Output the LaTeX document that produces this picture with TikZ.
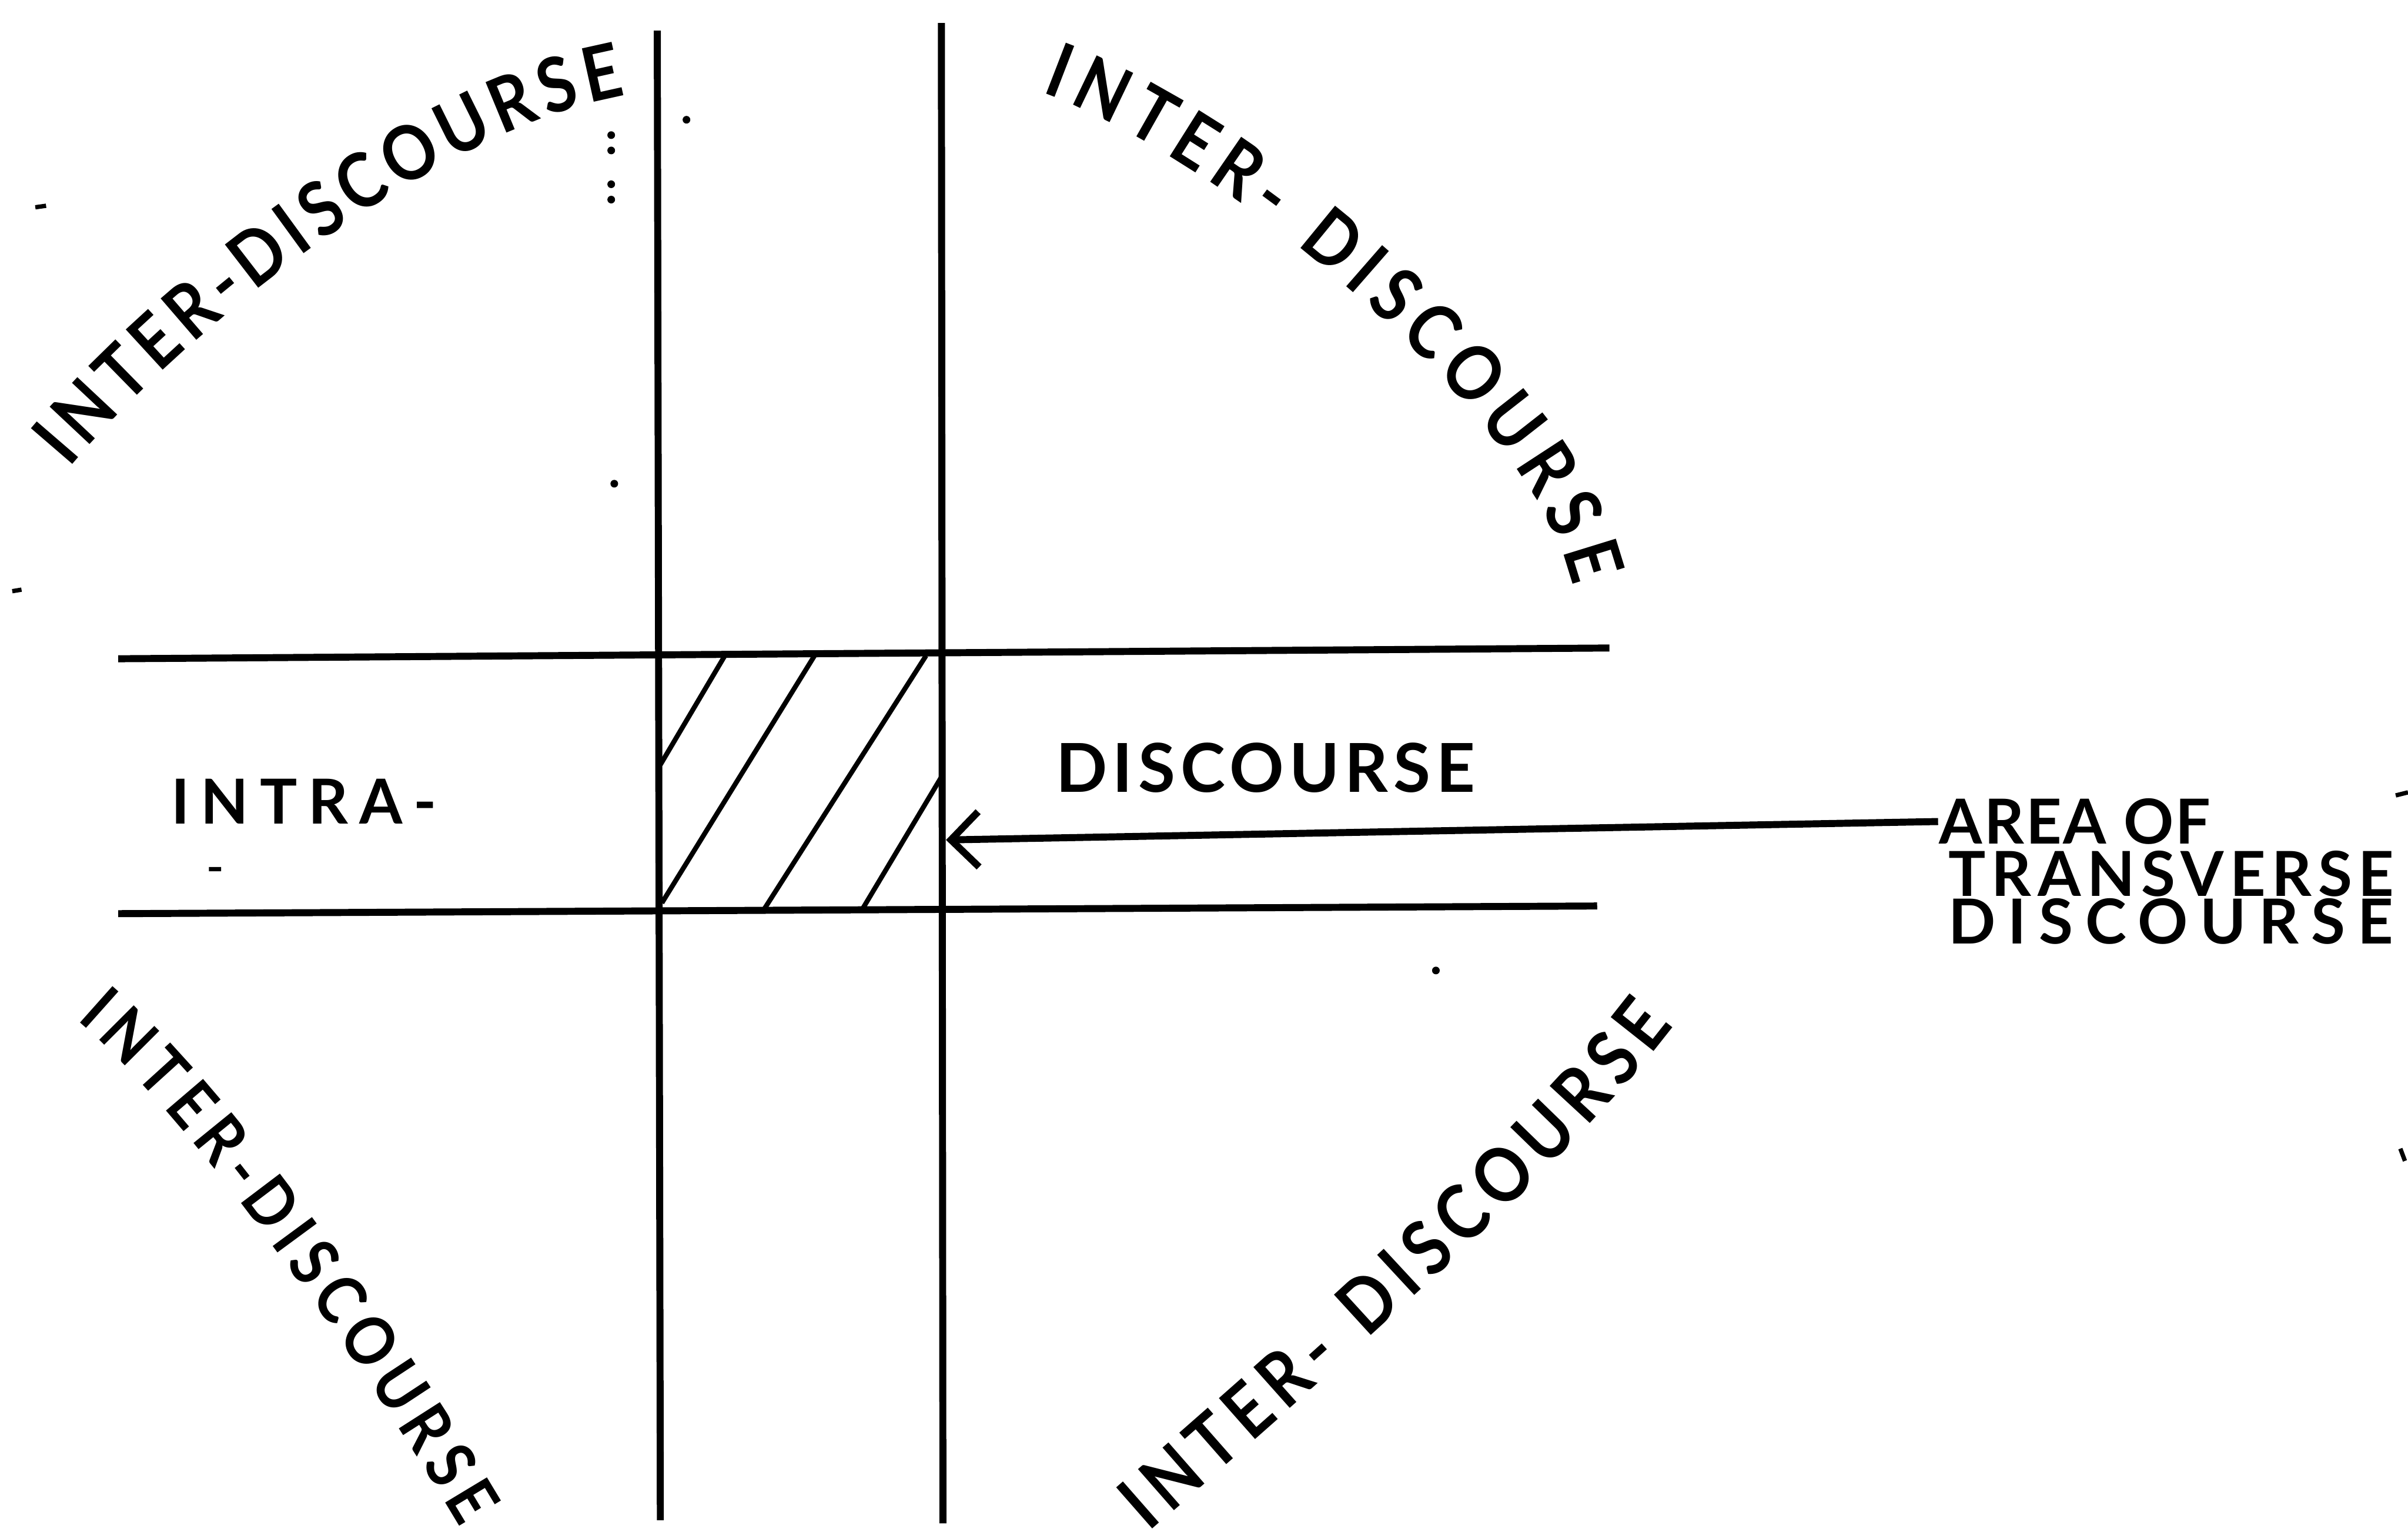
\documentclass[tikz,border=0pt]{standalone}
\usepackage{fontspec}
\setmainfont{Lato}
\usetikzlibrary{arrows.meta,decorations.text}

\newfontfamily\arcfont[FakeStretch=0.88]{Lato}
\newcommand\arcbig{\arcfont\bfseries\fontsize{14}{16}\selectfont}
\newcommand\arcsmall{\arcfont\bfseries\fontsize{12.5}{15}\selectfont}

\tikzset{
  rule/.style={line width=1.3pt},
  hatch/.style={line width=.9pt},
  hand/.style={inner sep=0pt},
  arctext/.style={decorate,decoration={text along path,text align=fit to path,
      text={#1}}}
}

\begin{document}
\begin{tikzpicture}[x=.1mm,y=-.1mm]
    \useasboundingbox (0,0) rectangle (1568,1002);
    \draw[rule] (428,20) -- (430,990);
    \draw[rule] (613,15) -- (614,992);
    \draw[rule] (77,429) -- (1048,422);
    \draw[rule] (77,595) -- (1040,590);
    \draw[hatch] (430,498) -- (472,427) (431,588) -- (531,426)
                 (497,593) -- (603,427) (561,593) -- (613,506);
    \coordinate (tip) at (616,547);
    \node[hand,font=\bfseries\fontsize{11.5}{13}\selectfont\addfontfeature{LetterSpace=18}] (intra) at (198,522) {INTRA-};
    \node[hand,font=\bfseries\fontsize{12.5}{14}\selectfont\addfontfeature{LetterSpace=8}] (discourse) at (824,500) {DISCOURSE};
    \node[hand,anchor=west,font=\bfseries\fontsize{11.5}{13}\selectfont\addfontfeature{LetterSpace=3}] (areaof) at (1262,535) {AREA OF};
    \node[hand,anchor=west,font=\bfseries\fontsize{11.5}{13}\selectfont\addfontfeature{LetterSpace=10}] (transverse) at (1268,569) {TRANSVERSE};
    \node[hand,anchor=west,font=\bfseries\fontsize{11.5}{13}\selectfont\addfontfeature{LetterSpace=20}] (discourse2) at (1268,600) {DISCOURSE};
    \draw[rule,-{Straight Barb[length=1.8mm,width=3.6mm]}] (areaof.west) -- (tip);
    \path[arctext={|\arcbig|INTER-DISCOURSE}] (45,305) .. controls (125,210) and (288,82) .. (408,62);
    \path[arctext={|\arcbig|INTER- DISCOURSE}] (678,60) .. controls (800,104) and (1002,274) .. (1024,382);
    \path[arctext={|\arcsmall|INTER-DISCOURSE}] (50,664) .. controls (129,732) and (240,894) .. (300,995);
    \path[arctext={|\arcbig|INTER- DISCOURSE}] (748,998) .. controls (838,919) and (1018,764) .. (1090,668);
    \foreach \p in {(398,88),(398,98),(398,120),(398,130),(400,315),(447,78),(935,632)}
      \fill \p circle (.25mm);
    \draw[line width=.8pt] (8,385) -- (14,384) (136,566) -- (144,566) (23,135) -- (30,134)
      (1560,518) -- (1568,516) (1563,748) -- (1566,756);
\end{tikzpicture}
\end{document}
